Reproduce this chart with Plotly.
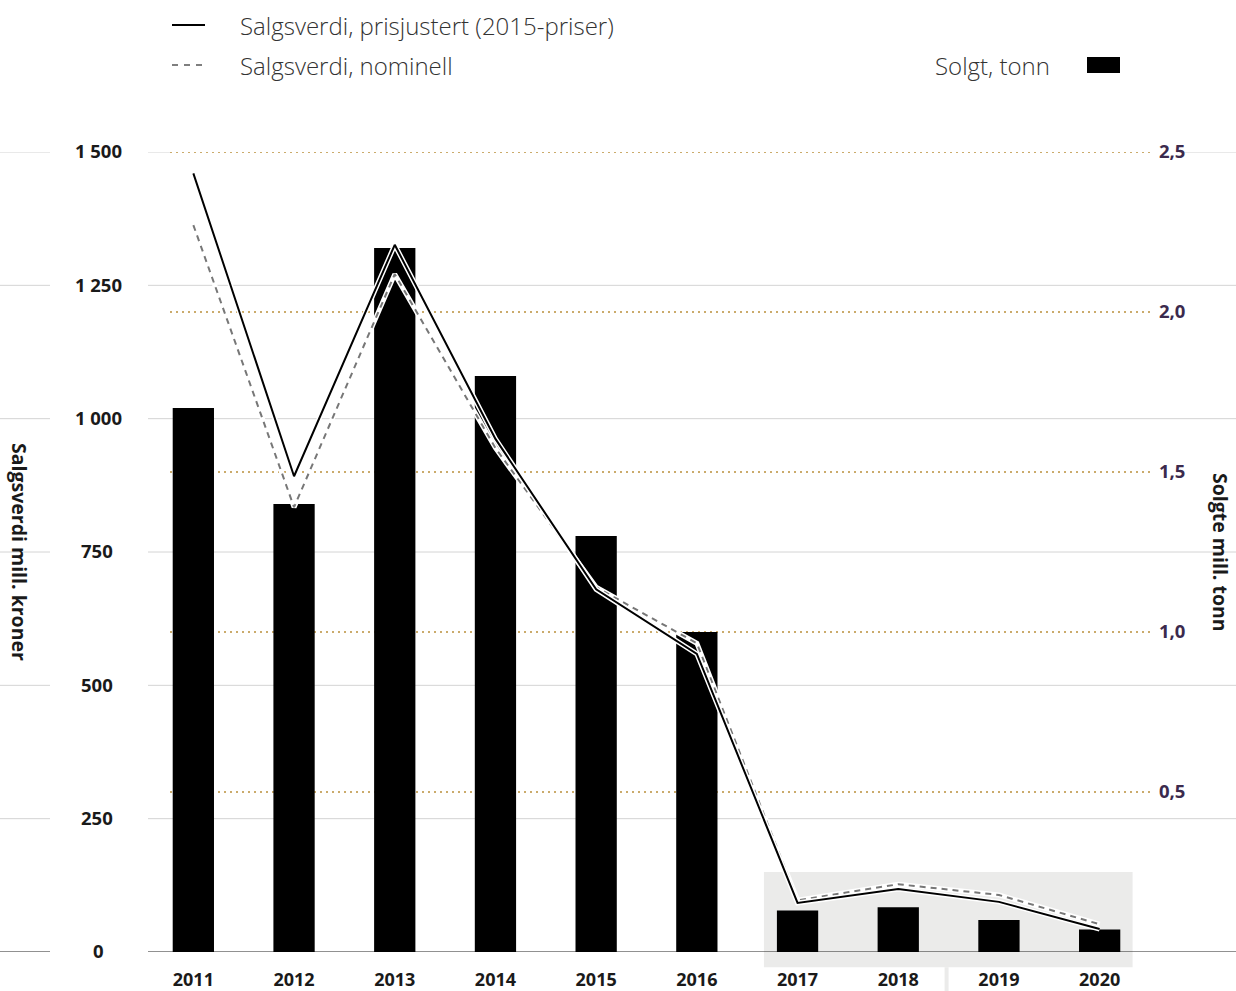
import plotly.graph_objects as go

years = ["2011", "2012", "2013", "2014", "2015", "2016", "2017", "2018", "2019", "2020"]
solgt_tonn = [1.70, 1.40, 2.20, 1.80, 1.30, 1.00, 0.13, 0.14, 0.10, 0.07]
verdi_prisjustert = [1460, 892, 1326, 962, 680, 559, 92, 118, 94, 43]
verdi_nominell = [1363, 834, 1271, 945, 684, 579, 97, 127, 107, 52]
left_ticks = [0, 250, 500, 750, 1000, 1250, 1500]
left_tick_labels = ["0\u2002\u2002", "250\u2002", "500\u2002", "750\u2002", "1 000", "1 250", "1 500"]
right_ticks = [0.5, 1.0, 1.5, 2.0, 2.5]

W, H = 1236, 991
L, R, T, B = 143, 86, 152, 39
PW = W - L - R


def px(xp):
    return (xp - L) / PW


FONT = "Open Sans"
TXT = "#1a1a1a"
TICK = 18.5

fig = go.Figure()

# bars on y (right axis, drawn first so lines sit on top)
fig.add_trace(go.Bar(x=years, y=solgt_tonn, name="Solgt, tonn", marker=dict(color="#000000", line=dict(width=0)),
                     width=0.41, yaxis="y", showlegend=False))

# lines on y2 (left axis) with white halos
fig.add_trace(go.Scatter(x=years, y=verdi_nominell, mode="lines", line=dict(color="white", width=5),
                         yaxis="y2", showlegend=False, hoverinfo="skip"))
fig.add_trace(go.Scatter(x=years, y=verdi_nominell, mode="lines", name="Salgsverdi, nominell",
                         line=dict(color="#777777", width=2, dash="6px,5px"), yaxis="y2", showlegend=False))
fig.add_trace(go.Scatter(x=years, y=verdi_prisjustert, mode="lines", line=dict(color="white", width=5),
                         yaxis="y2", showlegend=False, hoverinfo="skip"))
fig.add_trace(go.Scatter(x=years, y=verdi_prisjustert, mode="lines", name="Salgsverdi, prisjustert (2015-priser)",
                         line=dict(color="#000000", width=2), yaxis="y2", showlegend=False))

shapes = []
# grey box over 2017-2020
shapes.append(dict(type="rect", xref="x", yref="paper", x0=5.666, x1=9.327, y0=-0.019, y1=0.1,
                   fillcolor="#ebebea", line=dict(width=0), layer="below"))
shapes.append(dict(type="line", xref="x", yref="paper", x0=7.48, x1=7.48, y0=-0.019, y1=-0.06,
                   line=dict(color="#ebebea", width=4), layer="below"))

# grey gridlines (left axis) with extensions
for v in left_ticks:
    col = "#222222" if v == 0 else "#d4d4d4"
    shapes.append(dict(type="line", xref="paper", yref="y2", x0=px(0), x1=px(50), y0=v, y1=v,
                       line=dict(color=col, width=1), layer="below"))
    if v == 1500:
        segs = [(148, 170), (1183, 1236)]
    else:
        segs = [(148, 1236)]
    for a, b in segs:
        shapes.append(dict(type="line", xref="paper", yref="y2", x0=px(a), x1=px(b), y0=v, y1=v,
                           line=dict(color=col, width=1), layer="below"))

# dotted gridlines (right axis)
for v in right_ticks:
    shapes.append(dict(type="line", xref="paper", yref="y", x0=px(170), x1=px(1150), y0=v, y1=v,
                       line=dict(color="#cbab6b", width=2.2, dash="2px,4px"), layer="below"))

# legend shapes
shapes.append(dict(type="line", xref="paper", yref="paper", x0=px(172), x1=px(205),
                   y0=(952 - 25) / 800, y1=(952 - 25) / 800, line=dict(color="#000000", width=2)))
shapes.append(dict(type="line", xref="paper", yref="paper", x0=px(172), x1=px(205),
                   y0=(952 - 65) / 800, y1=(952 - 65) / 800, line=dict(color="#555555", width=1.5, dash="6px,6px")))
shapes.append(dict(type="rect", xref="paper", yref="paper", x0=px(1087), x1=px(1120),
                   y0=(952 - 73) / 800, y1=(952 - 57) / 800, fillcolor="#000000", line=dict(width=0)))

LEG = dict(family=FONT, size=24, color="#333333", weight=300)
TITLE = dict(family=FONT, size=19.5, color=TXT, weight=700)
annotations = [
    dict(text="Salgsverdi, prisjustert (2015-priser)", xref="paper", yref="paper", x=px(238), y=(952 - 25) / 800,
         xanchor="left", yanchor="middle", showarrow=False, font=LEG),
    dict(text="Salgsverdi, nominell", xref="paper", yref="paper", x=px(238), y=(952 - 65) / 800,
         xanchor="left", yanchor="middle", showarrow=False, font=LEG),
    dict(text="Solgt, tonn", xref="paper", yref="paper", x=px(1052), y=(952 - 65) / 800,
         xanchor="right", yanchor="middle", showarrow=False, font=LEG),
    dict(text="Salgsverdi mill. kroner", xref="paper", yref="paper", x=px(20), y=0.5, textangle=90,
         xanchor="center", yanchor="middle", showarrow=False, font=TITLE),
    dict(text="Solgte mill. tonn", xref="paper", yref="paper", x=px(1221), y=0.5, textangle=90,
         xanchor="center", yanchor="middle", showarrow=False, font=TITLE),
]

fig.update_layout(
    width=W, height=H,
    margin=dict(l=L, r=R, t=T, b=B, pad=0, autoexpand=False),
    paper_bgcolor="white", plot_bgcolor="rgba(0,0,0,0)",
    separators=", ",
    font=dict(family=FONT, color=TXT),
    xaxis=dict(type="category", range=[-0.5, 9.5], showgrid=False, zeroline=False, showline=False,
               automargin=False, ticks="",
               tickfont=dict(family=FONT, size=18, color=TXT, weight=700), ticklabelstandoff=15),
    yaxis=dict(side="right", range=[0, 2.5], tickvals=right_ticks, tickformat=".1f", showgrid=False,
               zeroline=False, showline=False, ticks="", ticklabelstandoff=8, automargin=False,
               tickfont=dict(family=FONT, size=TICK, color="#3b2a4d", weight=700)),
    yaxis2=dict(side="left", overlaying="y", range=[0, 1500], tickvals=left_ticks, ticktext=left_tick_labels,
                showgrid=False, zeroline=False, showline=False, ticks="", ticklabelstandoff=20,
                automargin=False, tickfont=dict(family=FONT, size=TICK, color=TXT, weight=700)),
    shapes=shapes,
    annotations=annotations,
    hovermode=False,
)

fig.write_html("out.html", config={"displayModeBar": False},
               post_script="document.body.style.margin='0';")
